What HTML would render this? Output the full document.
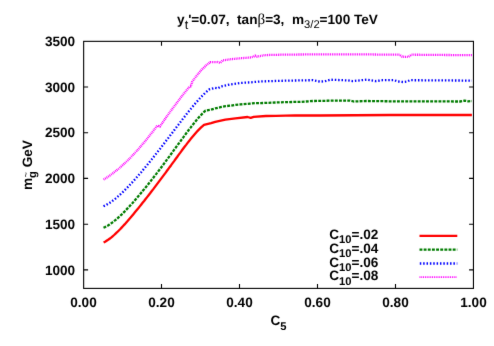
<!DOCTYPE html>
<html><head><meta charset="utf-8"><title>plot</title>
<style>
html,body{margin:0;padding:0;background:#fff;}
svg{display:block;will-change:transform;}
text{white-space:pre;text-rendering:geometricPrecision;font-family:"Liberation Sans",sans-serif;font-weight:bold;font-size:13.6px;fill:#000;}
.s{font-size:11.2px;}
.r{font-weight:normal;}
.sym{font-family:"Liberation Serif",serif;font-weight:normal;font-size:15.0px;}
.c{fill:none;stroke-width:2.3;stroke-linejoin:round;}
</style></head>
<body>
<svg width="494" height="346" viewBox="0 0 494 346">
<defs><filter id="soft" filterUnits="userSpaceOnUse" x="0" y="0" width="494" height="346" color-interpolation-filters="sRGB"><feConvolveMatrix order="3" kernelMatrix="0.00524 0.06192 0.00524 0.06192 0.73137 0.06192 0.00524 0.06192 0.00524" divisor="1" edgeMode="none" preserveAlpha="false"/></filter></defs>
<rect width="494" height="346" fill="#fff"/>
<g filter="url(#soft)">
<g fill="none" stroke="#000" stroke-width="1.1">
<rect x="83.65" y="41.35" width="389.80" height="247.05"/>
<path d="M161.5 288.4V284.0M161.5 41.4V45.8"/><path d="M239.5 288.4V284.0M239.5 41.4V45.8"/><path d="M317.5 288.4V284.0M317.5 41.4V45.8"/><path d="M395.5 288.4V284.0M395.5 41.4V45.8"/><path d="M83.7 87.0H88.1M473.4 87.0H469.1"/><path d="M83.7 132.7H88.1M473.4 132.7H469.1"/><path d="M83.7 178.4H88.1M473.4 178.4H469.1"/><path d="M83.7 224.2H88.1M473.4 224.2H469.1"/><path d="M83.7 269.9H88.1M473.4 269.9H469.1"/>
</g>
<text x="277.5" y="23.9" text-anchor="middle" xml:space="preserve">y<tspan class="r" style="font-size:12.6px" dy="4.6">t</tspan><tspan dy="-4.6">'=0.07,  tan</tspan><tspan class="sym">β</tspan>=3,  m<tspan class="s r" dy="4.4">3/2</tspan><tspan dy="-4.4">=100 TeV</tspan></text>
<text x="83.5" y="306.8" text-anchor="middle">0.00</text><text x="161.5" y="306.8" text-anchor="middle">0.20</text><text x="239.5" y="306.8" text-anchor="middle">0.40</text><text x="317.5" y="306.8" text-anchor="middle">0.60</text><text x="395.5" y="306.8" text-anchor="middle">0.80</text><text x="473.5" y="306.8" text-anchor="middle">1.00</text>
<text x="75.2" y="46.0" text-anchor="end">3500</text><text x="75.2" y="91.7" text-anchor="end">3000</text><text x="75.2" y="137.3" text-anchor="end">2500</text><text x="75.2" y="183.0" text-anchor="end">2000</text><text x="75.2" y="228.8" text-anchor="end">1500</text><text x="75.2" y="274.7" text-anchor="end">1000</text>
<text x="270.4" y="325.1">C<tspan class="s" dy="4.8">5</tspan></text>
<g transform="translate(32.2,190) rotate(-90)">
<text x="0" y="0" xml:space="preserve">m<tspan class="s" dy="3.6">g</tspan><tspan dy="-3.6"> GeV</tspan></text>
<text x="12.6" y="-3.5" class="r" style="font-size:9.5px">~</text>
</g>
<text x="378.3" y="239.0" text-anchor="end">C<tspan class="s" dy="4.2">10</tspan><tspan dy="-4.2">=.02</tspan></text><text x="378.3" y="252.8" text-anchor="end">C<tspan class="s" dy="4.2">10</tspan><tspan dy="-4.2">=.04</tspan></text><text x="378.3" y="266.6" text-anchor="end">C<tspan class="s" dy="4.2">10</tspan><tspan dy="-4.2">=.06</tspan></text><text x="378.3" y="280.3" text-anchor="end">C<tspan class="s" dy="4.2">10</tspan><tspan dy="-4.2">=.08</tspan></text>
<polyline class="c" stroke="#ff0000" points="103.6,242.6 105.1,241.8 106.6,240.8 108.1,239.8 109.6,238.7 111.1,237.6 112.6,236.3 114.1,235.0 115.6,233.6 117.1,232.2 118.6,230.7 120.1,229.2 121.6,227.6 123.1,226.0 124.6,224.4 126.1,222.7 127.6,221.0 129.1,219.2 130.6,217.5 132.1,215.7 133.6,213.9 135.1,212.1 136.6,210.3 138.1,208.5 139.6,206.6 141.1,204.7 142.6,202.8 144.1,201.0 145.6,199.0 147.1,197.1 148.6,195.2 150.1,193.3 151.6,191.3 153.1,189.4 154.6,187.4 156.1,185.4 157.6,183.4 159.1,181.4 160.6,179.4 162.1,177.4 163.6,175.4 165.1,173.4 166.6,171.3 168.1,169.3 169.6,167.2 171.1,165.2 172.6,163.1 174.1,161.1 175.6,159.0 177.1,157.0 178.6,154.9 180.1,152.9 181.6,150.8 183.1,148.8 184.6,146.8 186.1,144.9 187.6,142.9 189.1,141.0 190.6,139.1 192.1,137.3 193.6,135.5 195.1,133.7 196.6,132.0 198.1,130.4 199.6,128.9 201.1,127.4 202.6,126.1 204.0,124.9 211.1,123.2 215.2,121.9 225.4,119.6 235.5,118.4 247.6,117.0 250.7,117.8 253.7,116.8 265.9,116.0 276.0,115.8 295.0,115.4 320.0,115.5 390.0,115.0 471.9,115.0"/>
<polyline class="c" stroke="#007c00" stroke-dasharray="2.9 1.25" points="103.5,227.7 105.0,227.1 106.5,226.3 108.0,225.5 109.5,224.6 111.0,223.5 112.5,222.4 114.0,221.3 115.5,220.0 117.0,218.8 118.5,217.4 120.0,216.0 121.5,214.6 123.0,213.1 124.5,211.6 126.0,210.0 127.5,208.4 129.1,206.8 130.6,205.1 132.1,203.5 133.6,201.8 135.1,200.0 136.6,198.3 138.1,196.5 139.6,194.7 141.1,192.9 142.6,191.1 144.1,189.3 145.6,187.4 147.1,185.6 148.6,183.7 150.1,181.8 151.6,179.9 153.1,178.0 154.6,176.0 156.1,174.1 157.6,172.1 159.1,170.2 160.6,168.2 162.1,166.2 163.6,164.2 165.1,162.2 166.6,160.1 168.1,158.1 169.6,156.1 171.1,154.0 172.6,152.0 174.1,149.9 175.6,147.8 177.1,145.8 178.6,143.7 180.1,141.7 181.6,139.6 183.1,137.6 184.6,135.5 186.1,133.5 187.6,131.5 189.1,129.5 190.6,127.6 192.1,125.6 193.6,123.7 195.1,121.9 196.6,120.1 198.1,118.3 199.6,116.6 201.1,115.0 202.6,113.4 204.1,111.9 205.5,110.6 210.7,109.8 215.2,108.4 220.5,107.2 225.4,106.2 231.0,105.6 235.5,104.8 240.5,104.4 250.0,103.6 255.7,103.1 260.7,103.1 276.0,102.5 281.0,102.3 295.0,101.9 300.0,101.9 313.0,101.0 336.0,100.6 350.0,100.6 353.7,101.5 366.4,101.0 390.0,101.3 460.0,101.5 464.5,100.6 468.0,101.3 471.9,101.0"/>
<polyline class="c" stroke="#0000ff" stroke-dasharray="1.5 1.86" points="103.5,206.3 105.0,205.6 106.5,204.8 108.0,203.9 109.5,203.0 111.0,202.0 112.5,200.9 114.0,199.8 115.5,198.6 117.0,197.3 118.5,196.0 120.0,194.7 121.5,193.3 123.0,191.9 124.5,190.4 126.0,188.9 127.5,187.4 129.0,185.8 130.5,184.2 132.0,182.6 133.5,181.0 135.0,179.3 136.5,177.6 138.0,175.9 139.5,174.1 141.0,172.4 142.5,170.6 144.0,168.8 145.5,167.0 147.0,165.2 148.5,163.3 150.0,161.5 151.5,159.6 153.0,157.7 154.5,155.8 156.0,153.9 157.5,152.0 159.0,150.1 160.5,148.2 162.0,146.2 163.5,144.3 165.0,142.3 166.5,140.3 168.0,138.4 169.5,136.4 171.0,134.4 172.5,132.5 174.0,130.5 175.5,128.5 177.0,126.5 178.5,124.6 180.0,122.6 181.5,120.6 183.0,118.7 184.5,116.8 186.0,114.8 187.5,112.9 189.0,111.1 190.5,109.2 192.0,107.4 193.5,105.6 195.0,103.8 196.5,102.1 198.0,100.4 199.5,98.7 201.0,97.1 202.5,95.6 204.0,94.1 205.5,92.6 207.0,91.3 208.5,90.0 209.3,89.4 214.8,87.9 217.8,88.4 220.9,86.5 231.0,84.3 241.1,82.9 250.0,82.4 260.7,81.4 281.0,80.8 300.0,80.4 313.0,80.2 320.0,81.6 324.7,81.3 330.5,79.7 347.9,80.4 352.5,81.1 366.4,79.7 375.6,81.1 382.6,80.2 394.0,80.2 398.0,81.5 403.0,82.0 407.0,81.5 410.0,80.2 471.9,80.6"/>
<polyline class="c" stroke="#ff00ff" stroke-width="1.75" stroke-dasharray="0.95 0.85" points="103.5,179.6 105.0,178.7 106.5,177.7 108.0,176.8 109.5,175.7 111.0,174.7 112.5,173.6 114.0,172.4 115.5,171.2 117.0,170.0 118.5,168.8 120.0,167.5 121.5,166.2 123.0,164.8 124.5,163.4 126.0,162.0 127.5,160.6 129.0,159.1 130.5,157.6 132.0,156.0 133.5,154.4 135.0,152.8 136.5,151.2 138.0,149.5 139.5,147.8 141.0,146.1 142.5,144.3 144.0,142.5 145.5,140.7 147.0,138.9 148.5,137.0 150.0,135.1 151.5,133.2 153.0,131.3 154.5,129.3 156.0,127.3 157.3,125.6 159.9,126.5 161.4,124.3 162.9,122.1 164.4,120.0 165.9,117.8 167.4,115.7 168.9,113.6 170.4,111.5 171.9,109.5 173.4,107.4 174.9,105.4 176.4,103.4 177.9,101.4 179.4,99.4 180.9,97.4 182.4,95.5 183.9,93.6 185.4,91.7 186.9,89.8 188.4,88.0 189.6,86.5 190.8,86.4 192.1,82.0 193.6,79.8 195.1,77.8 196.6,75.8 198.1,73.9 199.6,72.1 201.1,70.4 202.6,68.8 204.1,67.3 205.6,65.9 207.1,64.6 208.6,63.4 210.1,62.3 210.3,62.1 210.5,62.2 217.5,62.0 220.2,63.0 222.6,60.4 231.0,59.2 241.1,58.2 250.0,57.5 253.5,56.8 255.2,55.6 257.2,56.7 264.8,55.1 281.0,54.7 300.0,54.5 332.0,54.3 360.0,54.3 390.0,54.7 399.5,54.7 402.3,56.7 408.3,56.9 411.5,54.7 471.9,55.2"/>
<g class="c">
<path stroke="#ff0000" d="M419.5 235.9H457.3"/>
<path stroke="#007c00" stroke-dasharray="2.9 1.25" d="M419.5 249.7H457.3"/>
<path stroke="#0000ff" stroke-dasharray="1.5 1.86" d="M419.8 263.5H457.3"/>
<path stroke="#ff00ff" stroke-width="1.75" stroke-dasharray="0.95 0.85" d="M419.5 277.2H457.3"/>
</g>
</g>
</svg>
</body></html>
